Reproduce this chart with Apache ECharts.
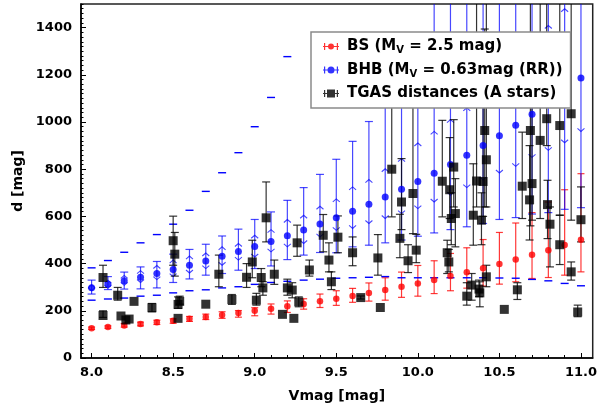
<!DOCTYPE html>
<html>
<head>
<meta charset="utf-8">
<script src="https://cdn.jsdelivr.net/npm/echarts@6/dist/echarts.min.js"></script>
<style>
  html, body { margin: 0; padding: 0; background: #fff; }
  #chart { width: 600px; height: 408px; }
</style>
</head>
<body>
<div id="chart"></div>
<script>
// Magnitude grid shared by the two standard-candle estimates
const vmag = [8.0, 8.1, 8.2, 8.3, 8.4, 8.5, 8.6, 8.7, 8.8, 8.9, 9.0, 9.1, 9.2, 9.3, 9.4, 9.5,
              9.6, 9.7, 9.8, 9.9, 10.0, 10.1, 10.2, 10.3, 10.4, 10.5, 10.6, 10.7, 10.8, 10.9, 11.0];

// Blue stragglers (M_V = 2.5)
const bsDist = [126, 131, 138, 144, 151, 158, 166, 174, 182, 191, 200, 209, 219, 229, 240, 251,
                263, 275, 288, 302, 316, 331, 347, 363, 380, 398, 417, 437, 457, 479, 501];
const bsLow  = [121, 126, 131, 136, 142, 147, 155, 163, 168, 173, 179, 186, 193, 207, 214, 223,
                236, 241, 245, 257, 262, 273, 285, 296, 305, 313, 323, 337, 341, 351, 365];
const bsHigh = [131, 136, 146, 152, 160, 166, 176, 186, 196, 201, 213, 229, 242, 251, 271, 285,
                295, 318, 340, 364, 392, 412, 443, 467, 502, 532, 572, 616, 661, 713, 781];

// Blue horizontal branch (M_V = 0.63)
const bhbDist = [298, 312, 327, 342, 358, 375, 393, 411, 431, 451, 472, 494, 518, 542, 568, 594,
                 622, 652, 682, 715, 748, 783, 820, 859, 900, 942, 986, 1033, 1082, 1133, 1186];
const bhbLow  = [271, 290, 292, 293, 297, 320, 335, 351, 358, 372, 379, 390, 417, 436, 447, 446,
                 471, 478, 488, 500, 516, 530, 544, 556, 570, 587, 595, 610, 616, 630, 637];
const bhbHigh = [330, 345, 364, 386, 409, 440, 460, 482, 517, 546, 587, 619, 668, 722, 778, 842,
                 918, 1002, 1090, 1150, 1210, 1600, 1700, 1800, 1900, 2000, 2100, 2200, 2300, 2400, 2500];
const bhbArrowLow  = [285, 296, 308, 320, 332, 345, 360, 379, 393, 415, 428, 450, 471, 485, 513, 541,
                      549, 570, 591, 612, 633, 661, 690, 722, 755, 784, 812, 850, 880, 912, 960];
const bhbArrowHigh = [310, 330, 350, 370, 392, 415, 432, 445, 471, 485, 520, 544, 587, 605, 643, 674,
                      725, 756, 802, 845, 911, 960, 1010, 1060, 1120, 1180, 1240, 1320, 1409, 1480, 1560];
const bhbLimLow  = [245, 250, 254, 262, 266, 276, 285, 289, 297, 302, 312, 320, 325, 330, 334, 338,
                    340, 342, 345, 340, 340, 340, 340, 340, 340, 339, 338, 333, 327, 316, 306];
const bhbLimHigh = [382, 413, 448, 488, 523, 567, 626, 706, 785, 870, 980, 1104, 1277, null, null, null,
                    null, null, null, null, null, null, null, null, null, null, null, null, null, null, null];

// TGAS parallax distances of the A stars
const tgasV  = [8.07, 8.07, 8.16, 8.18, 8.21, 8.23, 8.26, 8.37, 8.50, 8.51, 8.53, 8.54, 8.53, 8.70,
                8.78, 8.86, 8.95, 8.985, 9.01, 9.04, 9.05, 9.07, 9.12, 9.17, 9.20, 9.23, 9.24, 9.26,
                9.27, 9.335, 9.42, 9.455, 9.47, 9.51, 9.60, 9.65, 9.755, 9.77, 9.84, 9.89, 9.90, 9.94,
                9.97, 9.99, 10.15, 10.18, 10.19, 10.195, 10.205, 10.22, 10.23, 10.30, 10.33, 10.34,
                10.36, 10.375, 10.38, 10.39, 10.40, 10.41, 10.42, 10.42, 10.53, 10.61, 10.64, 10.685,
                10.69, 10.70, 10.75, 10.79, 10.795, 10.81, 10.87, 10.87, 10.94, 10.94, 10.98, 11.00];
const tgasD  = [341, 180, 266, 178, 161, 165, 240, 213, 497, 440, 227, 240, 168, 228,
                355, 248, 342, 407, 245, 341, 297, 594, 355, 185, 297, 288, 168, 488,
                238, 373, 520, 415, 323, 512, 446, 256, 424, 214, 800, 507, 661, 412,
                697, 457, 749, 446, 407, 713, 591, 809, 612, 262, 309, 605,
                750, 292, 276, 584, 748, 964, 840, 344, 206, 289, 728, 670,
                964, 739, 922, 1014, 650, 567, 985, 480, 1035, 365, 195, 586];
const tgasLo = [299, 172, 245, 178, 161, 165, 240, 196, 393, 347, 210, 228, 168, 228,
                302, 227, 299, 340, 224, 302, 266, 492, 312, 185, 266, 255, 168, 431,
                217, 347, 450, 365, 290, 446, 391, 250, 351, 214, 598, 425, 544, 362,
                527, 404, 598, 358, 365, 591, 480, 640, 471, 224, 245, 478,
                640, 260, 217, 480, 600, 640, 640, 302, 206, 248, 591, 500,
                560, 584, 591, 900, 506, 386, 605, 396, 584, 330, 175, 492];
const tgasHi = [393, 200, 299, 178, 161, 165, 240, 231, 601, 532, 259, 262, 168, 228,
                436, 269, 400, 499, 274, 379, 323, 746, 415, 185, 334, 319, 168, 563,
                259, 415, 608, 488, 365, 602, 513, 263, 523, 214, 1250, 609, 845, 480,
                1280, 524, 1007, 499, 460, 934, 700, 1010, 760, 319, 358, 823,
                1600, 330, 323, 700, 1100, 1394, 1600, 393, 206, 319, 957, 900,
                1600, 1100, 1600, 1600, 753, 640, 1600, 605, 1600, 407, 224, 725];

// Axis ticks
const xTickLabels = [8.0, 8.5, 9.0, 9.5, 10.0, 10.5, 11.0];
const xMinorTicks = vmag;
const yTickLabels = [0, 200, 400, 600, 800, 1000, 1200, 1400];
const yMinorTicks = [];
for (let v = 0; v <= 1500; v += 20) yMinorTicks.push(v);

const legendLabels = {
  BS:   '{t|BS (M}{s|V}{t| = 2.5 mag)}',
  BHB:  '{t|BHB (M}{s|V}{t| = 0.63mag (RR))}',
  TGAS: '{t|TGAS distances (A stars)}'
};

const FONT = '"DejaVu Sans", sans-serif';
const RED = '#ff0000', BLUE = '#0000ff', BLACK = '#000000';

function seg(x1, y1, x2, y2, style) {
  return { type: 'line', shape: { x1: x1, y1: y1, x2: x2, y2: y2 }, style: style };
}

// vertical bar between two pixel heights, clipped to the plot, with end caps
function pushBar(children, x, yLo, yHi, top, bottom, half, style) {
  if (!(isFinite(yLo) && isFinite(yHi)) || Math.abs(yLo - yHi) < 0.5) return;
  const a = Math.max(Math.min(yLo, bottom), top);
  const b = Math.max(Math.min(yHi, bottom), top);
  if (a !== b) children.push(seg(x, a, x, b, style));
  [yLo, yHi].forEach(function (y) {
    if (y >= top && y <= bottom) children.push(seg(x - half, y, x + half, y, style));
  });
}

function simpleBars(color, half) {
  return function (params, api) {
    const cs = params.coordSys;
    const top = cs.y, bottom = cs.y + cs.height;
    const x = api.coord([api.value(0), 0])[0];
    const yLo = api.coord([api.value(0), api.value(2)])[1];
    const yHi = api.coord([api.value(0), api.value(3)])[1];
    const children = [];
    pushBar(children, x, yLo, yHi, top, bottom, half,
      { stroke: color, lineWidth: 1.2, fill: null });
    return { type: 'group', children: children };
  };
}

function bhbBars(params, api) {
  const cs = params.coordSys;
  const top = cs.y, bottom = cs.y + cs.height;
  const v = api.value(0);
  const x = api.coord([v, 0])[0];
  const py = function (val) { return api.coord([v, val])[1]; };
  const children = [];
  const barStyle = { stroke: 'rgba(0,0,255,0.72)', lineWidth: 1.2, fill: null };
  pushBar(children, x, py(api.value(2)), py(api.value(3)), top, bottom, 4, barStyle);
  // limit arrows inside the bar
  const aLo = py(api.value(4)), aHi = py(api.value(5));
  const arrowStyle = { stroke: 'rgba(0,0,255,0.72)', lineWidth: 1.1, fill: null };
  if (isFinite(aHi) && aHi >= top + 1) {
    children.push({ type: 'polyline', shape: { points: [[x - 3.5, aHi + 3], [x, aHi], [x + 3.5, aHi + 3]] }, style: arrowStyle });
  }
  if (isFinite(aLo) && aLo <= bottom) {
    children.push({ type: 'polyline', shape: { points: [[x - 3.5, aLo - 3], [x, aLo], [x + 3.5, aLo - 3]] }, style: arrowStyle });
  }
  // outer range markers
  const dashStyle = { stroke: BLUE, lineWidth: 1.4, fill: null };
  [api.value(6), api.value(7)].forEach(function (val) {
    if (val === null || !isFinite(val)) return;
    const y = py(val);
    if (y >= top && y <= bottom) children.push(seg(x - 4, y, x + 4, y, dashStyle));
  });
  return { type: 'group', children: children };
}

const bsData = vmag.map(function (v, i) { return [v, bsDist[i], bsLow[i], bsHigh[i]]; });
const bhbData = vmag.map(function (v, i) {
  return [v, bhbDist[i], bhbLow[i], bhbHigh[i], bhbArrowLow[i], bhbArrowHigh[i], bhbLimLow[i], bhbLimHigh[i]];
});
const tgasData = tgasV.map(function (v, i) { return [v, tgasD[i], tgasLo[i], tgasHi[i]]; });

const axisFont = { fontFamily: FONT, fontWeight: 'bold', fontSize: 13, color: '#000' };

const chart = echarts.init(document.getElementById('chart'), null, { renderer: 'canvas' });
chart.setOption({
  animation: false,
  backgroundColor: '#fff',
  grid: { left: 81, top: 4, right: 4, bottom: 50, show: true, borderColor: '#222', borderWidth: 1.5, backgroundColor: 'transparent' },
  xAxis: [{
    type: 'value', min: 7.935, max: 11.072,
    name: 'Vmag [mag]', nameLocation: 'middle', nameGap: 31,
    nameTextStyle: { fontFamily: FONT, fontWeight: 'bold', fontSize: 14, color: '#000' },
    axisLine: { show: true, onZero: false, lineStyle: { color: '#000', width: 1.5 } },
    axisTick: { show: true, inside: true, length: 5, customValues: xTickLabels, lineStyle: { color: '#000', width: 1 } },
    axisLabel: Object.assign({ margin: 8, customValues: xTickLabels, formatter: function (v) { return v.toFixed(1); } }, axisFont),
    splitLine: { show: false }
  }, {
    type: 'value', min: 7.935, max: 11.072, position: 'bottom',
    axisLine: { show: false },
    axisTick: { show: true, inside: true, length: 3, customValues: xMinorTicks, lineStyle: { color: '#000', width: 1 } },
    axisLabel: { show: false },
    splitLine: { show: false }
  }],
  yAxis: [{
    type: 'value', min: 0, max: 1500,
    name: 'd [mag]', nameLocation: 'middle', nameGap: 50, nameRotate: 90,
    nameTextStyle: { fontFamily: FONT, fontWeight: 'bold', fontSize: 14, color: '#000' },
    axisLine: { show: true, onZero: false, lineStyle: { color: '#000', width: 1.5 } },
    axisTick: { show: true, inside: true, length: 5, customValues: yTickLabels, lineStyle: { color: '#000', width: 1 } },
    axisLabel: Object.assign({ margin: 9, customValues: yTickLabels, formatter: function (v) { return String(v); } }, axisFont),
    splitLine: { show: false }
  }, {
    type: 'value', min: 0, max: 1500, position: 'left',
    axisLine: { show: false },
    axisTick: { show: true, inside: true, length: 2.5, customValues: yMinorTicks, lineStyle: { color: '#000', width: 1 } },
    axisLabel: { show: false },
    splitLine: { show: false }
  }],
  legend: {
    orient: 'vertical', left: 311, top: 32, zlevel: 1, z: 100,
    padding: [7, 8, 7, 12], itemGap: 7, itemWidth: 16, itemHeight: 10,
    backgroundColor: '#fff', borderColor: '#8a8a8a', borderWidth: 1.5, borderRadius: 0,
    selectedMode: false,
    textStyle: {
      fontFamily: FONT, fontWeight: 'bold', fontSize: 15, color: '#000', padding: [0, 0, 0, 3],
      rich: {
        t: { fontFamily: FONT, fontWeight: 'bold', fontSize: 15, lineHeight: 18, color: '#000' },
        s: { fontFamily: FONT, fontWeight: 'bold', fontSize: 10, lineHeight: 10, verticalAlign: 'bottom', color: '#000' }
      }
    },
    formatter: function (name) { return legendLabels[name]; },
    data: [
      { name: 'BS', icon: 'path://M0,4.5H16V5.5H0Z M1,1.5H2.2V8.5H1Z M13.8,1.5H15V8.5H13.8Z M5,5A3,3 0 1,1 11,5A3,3 0 1,1 5,5Z', itemStyle: { color: RED } },
      { name: 'BHB', icon: 'path://M0,4.5H16V5.5H0Z M1,1.5H2.2V8.5H1Z M13.8,1.5H15V8.5H13.8Z M4.5,5A3.5,3.5 0 1,1 11.5,5A3.5,3.5 0 1,1 4.5,5Z', itemStyle: { color: BLUE } },
      { name: 'TGAS', icon: 'path://M0,4.5H16V5.5H0Z M1,1.5H2.2V8.5H1Z M13.8,1.5H15V8.5H13.8Z M4,1H12V9H4Z', itemStyle: { color: BLACK } }
    ]
  },
  series: [
    { name: 'bsErr', type: 'custom', silent: true, renderItem: simpleBars('rgba(255,0,0,0.78)', 3.5),
      data: bsData, encode: { x: 0, y: 1 }, z: 2 },
    { name: 'BS', type: 'scatter', silent: true, symbol: 'circle', symbolSize: 6.5,
      itemStyle: { color: RED }, data: bsData.map(function (r) { return [r[0], r[1]]; }), z: 3 },
    { name: 'bhbErr', type: 'custom', silent: true, renderItem: bhbBars,
      data: bhbData, encode: { x: 0, y: 1 }, z: 3 },
    { name: 'BHB', type: 'scatter', silent: true, symbol: 'circle', symbolSize: 7,
      itemStyle: { color: BLUE }, data: bhbData.map(function (r) { return [r[0], r[1]]; }), z: 3 },
    { name: 'tgasErr', type: 'custom', silent: true, renderItem: simpleBars('rgba(0,0,0,0.8)', 4),
      data: tgasData, encode: { x: 0, y: 1 }, z: 3 },
    { name: 'TGAS', type: 'scatter', silent: true, symbol: 'rect', symbolSize: 9,
      itemStyle: { color: BLACK }, data: tgasData.map(function (r) { return [r[0], r[1]]; }), z: 3 }
  ]
});
</script>
</body>
</html>
